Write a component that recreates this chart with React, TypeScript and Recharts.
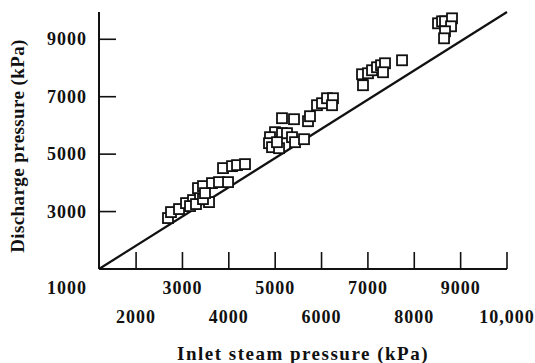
import { ScatterChart, Scatter, XAxis, YAxis } from 'recharts';

// readings taken off the plot (kPa)
const inletPressure = [
  2688, 2753, 2926, 3077, 3228, 3379, 3335, 3573, 3443, 3637, 3788, 3983, 3875, 4069, 4177, 4349,
  3163, 3292, 3443, 3486,
  5147, 5406, 5708, 5751, 5902, 6010, 6118, 6247, 6226, 4996, 4888, 4867, 4932, 5083, 5147, 5255,
  5363, 5428, 5622, 5039,
  6873, 6894, 7002, 7089, 7196, 7283, 7369, 7326, 7736,
  8512, 8599, 8663, 8814, 8793, 8663, 8642,
];
const dischargePressure = [
  2774, 2982, 3087, 3295, 3400, 3504, 3817, 3330, 3887, 3991, 4026, 4026, 4513, 4582, 4617, 4652,
  3191, 3261, 3435, 3643,
  6252, 6217, 6147, 6321, 6704, 6773, 6947, 6947, 6704, 5765, 5591, 5382, 5243, 5208, 5730, 5730,
  5591, 5417, 5521, 5417,
  7782, 7400, 7817, 7921, 8026, 8095, 8165, 7852, 8269,
  9556, 9625, 9625, 9730, 9452, 9278, 9034,
];

// 45-degree reference line
const lineInlet = [1200, 10000];
const lineDischarge = [1000, 9950];

const xTicks = [2000, 3000, 4000, 5000, 6000, 7000, 8000, 9000, 10000];
const xTickLabels = ['2000', '3000', '4000', '5000', '6000', '7000', '8000', '9000', '10,000'];
const yTicks = [1000, 3000, 5000, 7000, 9000];

const points = inletPressure.map((x, i) => ({ x, y: dischargePressure[i] }));
const refLine = lineInlet.map((x, i) => ({ x, y: lineDischarge[i] }));

const font = '"Liberation Serif", "Times New Roman", serif';

const SquareMark = (props: any) => {
  const { cx, cy } = props;
  return (
    <rect x={cx - 5} y={cy - 5} width={10} height={10} fill="#fff" stroke="#111" strokeWidth={1.8} />
  );
};

const XTick = (props: any) => {
  const { x, y, payload, index } = props;
  const lower = index % 2 === 0;
  const i = xTicks.indexOf(payload.value);
  return (
    <g>
      <line x1={x} y1={y} x2={x} y2={y - 17} stroke="#111" strokeWidth={1.6} />
      <text
        x={x}
        y={y + (lower ? 54 : 25)}
        textAnchor="middle"
        fontFamily={font}
        fontWeight="bold"
        fontSize={18}
        letterSpacing={1}
        fill="#111"
      >
        {xTickLabels[i]}
      </text>
    </g>
  );
};

const YTick = (props: any) => {
  const { x, y, payload } = props;
  const origin = payload.value === 1000;
  return (
    <g>
      {!origin && <line x1={x} y1={y} x2={x + 17} y2={y} stroke="#111" strokeWidth={1.6} />}
      <text
        x={x - 12}
        y={origin ? y + 25 : y + 6}
        textAnchor="end"
        fontFamily={font}
        fontWeight="bold"
        fontSize={18}
        letterSpacing={1}
        fill="#111"
      >
        {payload.value}
      </text>
    </g>
  );
};

export default function App() {
  return (
    <div style={{ width: 535, height: 363, background: '#fff' }}>
      <style>{`body{margin:0}`}</style>
      <ScatterChart width={535} height={363} margin={{ top: 12, right: 28, left: 0, bottom: 0 }}>
        <XAxis
          type="number"
          dataKey="x"
          domain={[1200, 10000]}
          ticks={xTicks}
          interval={0}
          height={94}
          tickSize={0}
          tickMargin={0}
          tickLine={false}
          tick={<XTick />}
          axisLine={{ stroke: '#111', strokeWidth: 2 }}
          label={{
            content: () => (
              <text
                x={303}
                y={360}
                textAnchor="middle"
                fontFamily={font}
                fontWeight="bold"
                fontSize={19}
                letterSpacing={1.5}
                fill="#111"
              >
                Inlet steam pressure (kPa)
              </text>
            ),
          }}
        />
        <YAxis
          type="number"
          dataKey="y"
          domain={[1000, 9950]}
          ticks={yTicks}
          interval={0}
          width={99}
          tickSize={0}
          tickMargin={0}
          tickLine={false}
          tick={<YTick />}
          axisLine={{ stroke: '#111', strokeWidth: 2 }}
          label={{
            content: () => (
              <text
                x={24}
                y={146}
                transform="rotate(-90 24 146)"
                textAnchor="middle"
                fontFamily={font}
                fontWeight="bold"
                fontSize={19}
                letterSpacing={0.4}
                fill="#111"
              >
                Discharge pressure (kPa)
              </text>
            ),
          }}
        />
        <Scatter
          data={refLine}
          line={{ stroke: '#111', strokeWidth: 2.2 }}
          shape={() => <g />}
          isAnimationActive={false}
        />
        <Scatter data={points} shape={<SquareMark />} isAnimationActive={false} />
      </ScatterChart>
    </div>
  );
}
